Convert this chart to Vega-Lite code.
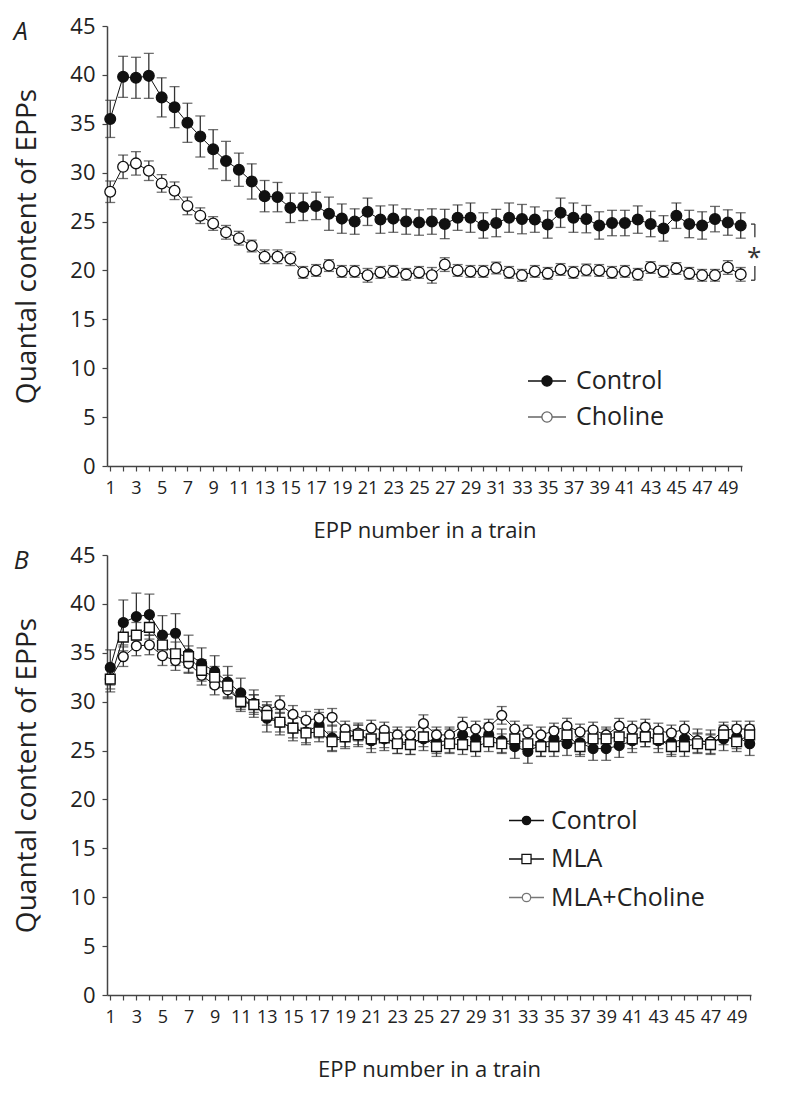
{
  "$schema": "https://vega.github.io/schema/vega-lite/v6.json",
  "padding": {"left": 13, "top": 15, "right": 5, "bottom": 5},
  "spacing": 3,
  "background": "white",
  "datasets": {
    "a": [
      {"n":1,"group":"Control","mean":35.5,"err":1.9},{"n":2,"group":"Control","mean":39.8,"err":2.1},{"n":3,"group":"Control","mean":39.7,"err":2.1},{"n":4,"group":"Control","mean":39.9,"err":2.3},{"n":5,"group":"Control","mean":37.7,"err":2.0},
      {"n":6,"group":"Control","mean":36.7,"err":2.1},{"n":7,"group":"Control","mean":35.1,"err":2.0},{"n":8,"group":"Control","mean":33.7,"err":2.1},{"n":9,"group":"Control","mean":32.4,"err":2.0},{"n":10,"group":"Control","mean":31.2,"err":2.0},
      {"n":11,"group":"Control","mean":30.3,"err":1.7},{"n":12,"group":"Control","mean":29.1,"err":1.8},{"n":13,"group":"Control","mean":27.6,"err":1.6},{"n":14,"group":"Control","mean":27.5,"err":1.5},{"n":15,"group":"Control","mean":26.4,"err":1.5},
      {"n":16,"group":"Control","mean":26.5,"err":1.4},{"n":17,"group":"Control","mean":26.6,"err":1.4},{"n":18,"group":"Control","mean":25.8,"err":1.7},{"n":19,"group":"Control","mean":25.3,"err":1.5},{"n":20,"group":"Control","mean":25.0,"err":1.3},
      {"n":21,"group":"Control","mean":26.0,"err":1.4},{"n":22,"group":"Control","mean":25.2,"err":1.4},{"n":23,"group":"Control","mean":25.3,"err":1.4},{"n":24,"group":"Control","mean":25.0,"err":1.3},{"n":25,"group":"Control","mean":24.9,"err":1.3},
      {"n":26,"group":"Control","mean":25.0,"err":1.3},{"n":27,"group":"Control","mean":24.75,"err":1.5},{"n":28,"group":"Control","mean":25.4,"err":1.3},{"n":29,"group":"Control","mean":25.4,"err":1.5},{"n":30,"group":"Control","mean":24.6,"err":1.3},
      {"n":31,"group":"Control","mean":24.85,"err":1.4},{"n":32,"group":"Control","mean":25.4,"err":1.5},{"n":33,"group":"Control","mean":25.25,"err":1.5},{"n":34,"group":"Control","mean":25.2,"err":1.3},{"n":35,"group":"Control","mean":24.7,"err":1.4},
      {"n":36,"group":"Control","mean":25.9,"err":1.5},{"n":37,"group":"Control","mean":25.4,"err":1.5},{"n":38,"group":"Control","mean":25.25,"err":1.4},{"n":39,"group":"Control","mean":24.6,"err":1.4},{"n":40,"group":"Control","mean":24.85,"err":1.3},
      {"n":41,"group":"Control","mean":24.85,"err":1.3},{"n":42,"group":"Control","mean":25.2,"err":1.4},{"n":43,"group":"Control","mean":24.75,"err":1.3},{"n":44,"group":"Control","mean":24.3,"err":1.3},{"n":45,"group":"Control","mean":25.6,"err":1.3},
      {"n":46,"group":"Control","mean":24.75,"err":1.4},{"n":47,"group":"Control","mean":24.6,"err":1.4},{"n":48,"group":"Control","mean":25.25,"err":1.3},{"n":49,"group":"Control","mean":24.9,"err":1.3},{"n":50,"group":"Control","mean":24.6,"err":1.3},
      {"n":1,"group":"Choline","mean":28.05,"err":1.1},{"n":2,"group":"Choline","mean":30.6,"err":1.2},{"n":3,"group":"Choline","mean":30.95,"err":1.2},{"n":4,"group":"Choline","mean":30.2,"err":1.0},{"n":5,"group":"Choline","mean":28.9,"err":0.9},
      {"n":6,"group":"Choline","mean":28.15,"err":0.9},{"n":7,"group":"Choline","mean":26.6,"err":0.9},{"n":8,"group":"Choline","mean":25.6,"err":0.8},{"n":9,"group":"Choline","mean":24.8,"err":0.7},{"n":10,"group":"Choline","mean":23.9,"err":0.7},
      {"n":11,"group":"Choline","mean":23.3,"err":0.7},{"n":12,"group":"Choline","mean":22.5,"err":0.6},{"n":13,"group":"Choline","mean":21.4,"err":0.7},{"n":14,"group":"Choline","mean":21.4,"err":0.7},{"n":15,"group":"Choline","mean":21.2,"err":0.7},
      {"n":16,"group":"Choline","mean":19.8,"err":0.6},{"n":17,"group":"Choline","mean":20.0,"err":0.6},{"n":18,"group":"Choline","mean":20.5,"err":0.6},{"n":19,"group":"Choline","mean":19.9,"err":0.6},{"n":20,"group":"Choline","mean":19.9,"err":0.6},
      {"n":21,"group":"Choline","mean":19.5,"err":0.7},{"n":22,"group":"Choline","mean":19.8,"err":0.6},{"n":23,"group":"Choline","mean":19.9,"err":0.6},{"n":24,"group":"Choline","mean":19.6,"err":0.6},{"n":25,"group":"Choline","mean":19.8,"err":0.6},
      {"n":26,"group":"Choline","mean":19.5,"err":0.8},{"n":27,"group":"Choline","mean":20.6,"err":0.7},{"n":28,"group":"Choline","mean":20.0,"err":0.6},{"n":29,"group":"Choline","mean":19.9,"err":0.6},{"n":30,"group":"Choline","mean":19.9,"err":0.6},
      {"n":31,"group":"Choline","mean":20.25,"err":0.6},{"n":32,"group":"Choline","mean":19.8,"err":0.6},{"n":33,"group":"Choline","mean":19.5,"err":0.6},{"n":34,"group":"Choline","mean":19.9,"err":0.6},{"n":35,"group":"Choline","mean":19.7,"err":0.6},
      {"n":36,"group":"Choline","mean":20.1,"err":0.6},{"n":37,"group":"Choline","mean":19.8,"err":0.6},{"n":38,"group":"Choline","mean":20.05,"err":0.6},{"n":39,"group":"Choline","mean":20.0,"err":0.6},{"n":40,"group":"Choline","mean":19.8,"err":0.6},
      {"n":41,"group":"Choline","mean":19.9,"err":0.6},{"n":42,"group":"Choline","mean":19.6,"err":0.6},{"n":43,"group":"Choline","mean":20.3,"err":0.6},{"n":44,"group":"Choline","mean":19.9,"err":0.6},{"n":45,"group":"Choline","mean":20.2,"err":0.6},
      {"n":46,"group":"Choline","mean":19.7,"err":0.6},{"n":47,"group":"Choline","mean":19.5,"err":0.6},{"n":48,"group":"Choline","mean":19.5,"err":0.6},{"n":49,"group":"Choline","mean":20.3,"err":0.7},{"n":50,"group":"Choline","mean":19.6,"err":0.7}
    ],
    "b": [
      {"n":1,"group":"Control","mean":33.5,"err":1.8},{"n":2,"group":"Control","mean":38.1,"err":2.3},{"n":3,"group":"Control","mean":38.7,"err":2.4},{"n":4,"group":"Control","mean":38.9,"err":2.1},{"n":5,"group":"Control","mean":36.8,"err":2.0},
      {"n":6,"group":"Control","mean":37.0,"err":2.0},{"n":7,"group":"Control","mean":34.9,"err":1.9},{"n":8,"group":"Control","mean":33.9,"err":1.6},{"n":9,"group":"Control","mean":33.1,"err":1.6},{"n":10,"group":"Control","mean":32.0,"err":1.6},
      {"n":11,"group":"Control","mean":30.9,"err":1.5},{"n":12,"group":"Control","mean":29.8,"err":1.4},{"n":13,"group":"Control","mean":28.3,"err":1.4},{"n":14,"group":"Control","mean":27.9,"err":1.3},{"n":15,"group":"Control","mean":27.3,"err":1.3},
      {"n":16,"group":"Control","mean":26.9,"err":1.3},{"n":17,"group":"Control","mean":27.6,"err":1.3},{"n":18,"group":"Control","mean":26.3,"err":1.3},{"n":19,"group":"Control","mean":26.4,"err":1.2},{"n":20,"group":"Control","mean":26.6,"err":1.2},
      {"n":21,"group":"Control","mean":26.0,"err":1.2},{"n":22,"group":"Control","mean":26.2,"err":1.2},{"n":23,"group":"Control","mean":25.9,"err":1.2},{"n":24,"group":"Control","mean":25.8,"err":1.2},{"n":25,"group":"Control","mean":26.2,"err":1.2},
      {"n":26,"group":"Control","mean":25.9,"err":1.2},{"n":27,"group":"Control","mean":26.0,"err":1.2},{"n":28,"group":"Control","mean":26.6,"err":1.2},{"n":29,"group":"Control","mean":26.2,"err":1.2},{"n":30,"group":"Control","mean":26.6,"err":1.2},
      {"n":31,"group":"Control","mean":26.0,"err":1.2},{"n":32,"group":"Control","mean":25.4,"err":1.2},{"n":33,"group":"Control","mean":24.9,"err":1.2},{"n":34,"group":"Control","mean":25.6,"err":1.2},{"n":35,"group":"Control","mean":26.2,"err":1.2},
      {"n":36,"group":"Control","mean":25.7,"err":1.2},{"n":37,"group":"Control","mean":25.8,"err":1.2},{"n":38,"group":"Control","mean":25.2,"err":1.2},{"n":39,"group":"Control","mean":25.2,"err":1.2},{"n":40,"group":"Control","mean":25.5,"err":1.2},
      {"n":41,"group":"Control","mean":26.0,"err":1.2},{"n":42,"group":"Control","mean":26.6,"err":1.2},{"n":43,"group":"Control","mean":26.0,"err":1.2},{"n":44,"group":"Control","mean":25.8,"err":1.2},{"n":45,"group":"Control","mean":26.2,"err":1.2},
      {"n":46,"group":"Control","mean":26.0,"err":1.2},{"n":47,"group":"Control","mean":25.9,"err":1.2},{"n":48,"group":"Control","mean":26.2,"err":1.2},{"n":49,"group":"Control","mean":26.4,"err":1.2},{"n":50,"group":"Control","mean":25.7,"err":1.2},
      {"n":1,"group":"MLA","mean":32.3,"err":1.3},{"n":2,"group":"MLA","mean":36.6,"err":1.4},{"n":3,"group":"MLA","mean":36.8,"err":1.3},{"n":4,"group":"MLA","mean":37.6,"err":1.2},{"n":5,"group":"MLA","mean":35.8,"err":1.2},
      {"n":6,"group":"MLA","mean":34.9,"err":1.2},{"n":7,"group":"MLA","mean":34.6,"err":1.1},{"n":8,"group":"MLA","mean":33.2,"err":1.1},{"n":9,"group":"MLA","mean":32.5,"err":1.1},{"n":10,"group":"MLA","mean":31.6,"err":1.1},
      {"n":11,"group":"MLA","mean":30.0,"err":1.0},{"n":12,"group":"MLA","mean":29.7,"err":1.0},{"n":13,"group":"MLA","mean":28.6,"err":1.0},{"n":14,"group":"MLA","mean":27.9,"err":1.0},{"n":15,"group":"MLA","mean":27.3,"err":1.0},
      {"n":16,"group":"MLA","mean":26.8,"err":1.0},{"n":17,"group":"MLA","mean":26.9,"err":1.0},{"n":18,"group":"MLA","mean":25.9,"err":1.0},{"n":19,"group":"MLA","mean":26.4,"err":1.0},{"n":20,"group":"MLA","mean":26.6,"err":1.0},
      {"n":21,"group":"MLA","mean":26.2,"err":1.0},{"n":22,"group":"MLA","mean":26.3,"err":1.0},{"n":23,"group":"MLA","mean":25.7,"err":1.0},{"n":24,"group":"MLA","mean":25.6,"err":1.0},{"n":25,"group":"MLA","mean":26.4,"err":1.0},
      {"n":26,"group":"MLA","mean":25.4,"err":1.0},{"n":27,"group":"MLA","mean":25.7,"err":1.0},{"n":28,"group":"MLA","mean":25.6,"err":1.0},{"n":29,"group":"MLA","mean":25.4,"err":1.0},{"n":30,"group":"MLA","mean":25.9,"err":1.0},
      {"n":31,"group":"MLA","mean":25.7,"err":1.0},{"n":32,"group":"MLA","mean":26.2,"err":1.0},{"n":33,"group":"MLA","mean":25.7,"err":1.0},{"n":34,"group":"MLA","mean":25.4,"err":1.0},{"n":35,"group":"MLA","mean":25.4,"err":1.0},
      {"n":36,"group":"MLA","mean":26.6,"err":1.0},{"n":37,"group":"MLA","mean":25.4,"err":1.0},{"n":38,"group":"MLA","mean":26.2,"err":1.0},{"n":39,"group":"MLA","mean":26.2,"err":1.0},{"n":40,"group":"MLA","mean":26.4,"err":1.0},
      {"n":41,"group":"MLA","mean":26.2,"err":1.0},{"n":42,"group":"MLA","mean":26.4,"err":1.0},{"n":43,"group":"MLA","mean":26.2,"err":1.0},{"n":44,"group":"MLA","mean":25.4,"err":1.0},{"n":45,"group":"MLA","mean":25.4,"err":1.0},
      {"n":46,"group":"MLA","mean":25.7,"err":1.0},{"n":47,"group":"MLA","mean":25.6,"err":1.0},{"n":48,"group":"MLA","mean":26.6,"err":1.0},{"n":49,"group":"MLA","mean":25.9,"err":1.0},{"n":50,"group":"MLA","mean":26.6,"err":1.0},
      {"n":1,"group":"MLA+Choline","mean":32.3,"err":1.0},{"n":2,"group":"MLA+Choline","mean":34.6,"err":1.0},{"n":3,"group":"MLA+Choline","mean":35.7,"err":1.0},{"n":4,"group":"MLA+Choline","mean":35.8,"err":1.0},{"n":5,"group":"MLA+Choline","mean":34.7,"err":1.0},
      {"n":6,"group":"MLA+Choline","mean":34.2,"err":1.0},{"n":7,"group":"MLA+Choline","mean":33.9,"err":1.0},{"n":8,"group":"MLA+Choline","mean":32.7,"err":1.0},{"n":9,"group":"MLA+Choline","mean":31.7,"err":1.0},{"n":10,"group":"MLA+Choline","mean":31.2,"err":0.9},
      {"n":11,"group":"MLA+Choline","mean":30.1,"err":0.9},{"n":12,"group":"MLA+Choline","mean":29.8,"err":0.9},{"n":13,"group":"MLA+Choline","mean":29.1,"err":0.9},{"n":14,"group":"MLA+Choline","mean":29.7,"err":0.9},{"n":15,"group":"MLA+Choline","mean":28.7,"err":0.9},
      {"n":16,"group":"MLA+Choline","mean":28.1,"err":0.9},{"n":17,"group":"MLA+Choline","mean":28.3,"err":0.9},{"n":18,"group":"MLA+Choline","mean":28.4,"err":0.9},{"n":19,"group":"MLA+Choline","mean":27.2,"err":0.8},{"n":20,"group":"MLA+Choline","mean":26.8,"err":0.8},
      {"n":21,"group":"MLA+Choline","mean":27.3,"err":0.8},{"n":22,"group":"MLA+Choline","mean":27.1,"err":0.8},{"n":23,"group":"MLA+Choline","mean":26.6,"err":0.8},{"n":24,"group":"MLA+Choline","mean":26.6,"err":0.8},{"n":25,"group":"MLA+Choline","mean":27.75,"err":0.9},
      {"n":26,"group":"MLA+Choline","mean":26.6,"err":0.8},{"n":27,"group":"MLA+Choline","mean":26.6,"err":0.8},{"n":28,"group":"MLA+Choline","mean":27.5,"err":0.9},{"n":29,"group":"MLA+Choline","mean":27.2,"err":0.8},{"n":30,"group":"MLA+Choline","mean":27.4,"err":0.8},
      {"n":31,"group":"MLA+Choline","mean":28.6,"err":0.9},{"n":32,"group":"MLA+Choline","mean":27.2,"err":0.8},{"n":33,"group":"MLA+Choline","mean":26.8,"err":0.8},{"n":34,"group":"MLA+Choline","mean":26.6,"err":0.8},{"n":35,"group":"MLA+Choline","mean":27.0,"err":0.8},
      {"n":36,"group":"MLA+Choline","mean":27.5,"err":0.8},{"n":37,"group":"MLA+Choline","mean":26.9,"err":0.8},{"n":38,"group":"MLA+Choline","mean":27.1,"err":0.8},{"n":39,"group":"MLA+Choline","mean":26.6,"err":0.8},{"n":40,"group":"MLA+Choline","mean":27.5,"err":0.8},
      {"n":41,"group":"MLA+Choline","mean":27.2,"err":0.8},{"n":42,"group":"MLA+Choline","mean":27.4,"err":0.8},{"n":43,"group":"MLA+Choline","mean":27.0,"err":0.8},{"n":44,"group":"MLA+Choline","mean":26.8,"err":0.8},{"n":45,"group":"MLA+Choline","mean":27.2,"err":0.8},
      {"n":46,"group":"MLA+Choline","mean":26.0,"err":0.8},{"n":47,"group":"MLA+Choline","mean":25.9,"err":0.8},{"n":48,"group":"MLA+Choline","mean":27.1,"err":0.8},{"n":49,"group":"MLA+Choline","mean":27.2,"err":0.8},{"n":50,"group":"MLA+Choline","mean":27.2,"err":0.8}
    ],
    "bracket": [
      {"x":51.1,"x2":51.1,"y":23.4,"y2":24.74},
      {"x":51.1,"x2":51.1,"y":19.0,"y2":20.45},
      {"x":50.8,"x2":51.1,"y":24.74,"y2":24.74},
      {"x":50.8,"x2":51.1,"y":19.0,"y2":19.0}
    ],
    "star": [{"x":51.05,"y":21.3,"label":"*"}]
  },
  "vconcat": [
    {
      "width": 635,
      "height": 440,
      "title": {"text": "A", "anchor": "start", "frame": "bounds", "fontStyle": "italic", "fontSize": 25, "fontWeight": "normal", "font": "Open Sans", "color": "#222", "offset": -30},
      "layer": [
        {
          "data": {"name": "a"},
          "mark": {"type": "errorbar", "ticks": {"size": 10, "thickness": 1.3}, "color": "#333", "thickness": 1.3},
          "encoding": {
            "x": {"field": "n", "type": "quantitative", "scale": {"domain": [0.75, 50.1], "nice": false, "zero": false}, "title": "EPP number in a train",
              "axis": {"values": [1,2,3,4,5,6,7,8,9,10,11,12,13,14,15,16,17,18,19,20,21,22,23,24,25,26,27,28,29,30,31,32,33,34,35,36,37,38,39,40,41,42,43,44,45,46,47,48,49,50], "tickCount": 100, "format": "d", "labelExpr": "datum.value % 2 == 1 ? datum.label : ''", "labelOverlap": false, "labelFlush": false, "titlePadding": 23}},
            "y": {"field": "mean", "type": "quantitative", "scale": {"domain": [0, 45], "nice": false}, "title": "Quantal content of EPPs", "axis": {"values": [0,5,10,15,20,25,30,35,40,45], "tickCount": 20, "format": "d"}},
            "yError": {"field": "err"},
            "detail": {"field": "group"}
          }
        },
        {
          "data": {"name": "a"},
          "mark": {"type": "line", "color": "#111", "strokeWidth": 1},
          "encoding": {
            "x": {"field": "n", "type": "quantitative", "title": "EPP number in a train"},
            "y": {"field": "mean", "type": "quantitative", "title": "Quantal content of EPPs"},
            "detail": {"field": "group"}
          }
        },
        {
          "data": {"name": "a"},
          "mark": {"type": "point", "shape": "circle", "filled": true, "size": 115, "stroke": "#111", "strokeWidth": 1.3, "opacity": 1},
          "encoding": {
            "x": {"field": "n", "type": "quantitative", "title": "EPP number in a train"},
            "y": {"field": "mean", "type": "quantitative", "title": "Quantal content of EPPs"},
            "fill": {
              "field": "group", "type": "nominal",
              "scale": {"domain": ["Control", "Choline"], "range": ["#111", "white"]},
              "legend": {
                "orient": "none", "legendX": 420, "legendY": 335, "title": null, "padding": 0,
                "symbolType": "M-1,0H-0.27M0.27,0H1M0.27,0A0.27,0.27,0,1,1,-0.27,0A0.27,0.27,0,1,1,0.27,0Z",
                "symbolSize": 1444, "symbolStrokeColor": "#111", "symbolStrokeWidth": 1.3,
                "labelFontSize": 25, "labelFont": "Open Sans", "labelColor": "#222", "labelOffset": 9, "rowPadding": 3,
                "symbolOpacity": 1,
                "encode": {
                  "symbols": {
                    "update": {
                      "stroke": {"signal": "datum.value === 'Choline' ? '#666' : '#111'"}
                    }
                  }
                }
              }
            }
          }
        },
        {
          "data": {"name": "bracket"},
          "mark": {"type": "rule", "color": "#333", "strokeWidth": 1.3},
          "encoding": {
            "x": {"field": "x", "type": "quantitative"},
            "x2": {"field": "x2"},
            "y": {"field": "y", "type": "quantitative"},
            "y2": {"field": "y2"}
          }
        },
        {
          "data": {"name": "star"},
          "mark": {"type": "text", "fontSize": 26, "font": "Open Sans", "color": "#333", "baseline": "middle", "align": "center"},
          "encoding": {
            "x": {"field": "x", "type": "quantitative"},
            "y": {"field": "y", "type": "quantitative"},
            "text": {"field": "label"}
          }
        }
      ]
    },
    {
      "width": 644,
      "height": 440,
      "title": {"text": "B", "anchor": "start", "frame": "bounds", "fontStyle": "italic", "fontSize": 25, "fontWeight": "normal", "font": "Open Sans", "color": "#222", "offset": -30},
      "data": {"name": "b"},
      "layer": [
        {
          "mark": {"type": "errorbar", "ticks": {"size": 10, "thickness": 1.3}, "color": "#333", "thickness": 1.3},
          "encoding": {
            "x": {"field": "n", "type": "quantitative", "scale": {"domain": [0.75, 50.1], "nice": false, "zero": false}, "title": "EPP number in a train",
              "axis": {"values": [1,2,3,4,5,6,7,8,9,10,11,12,13,14,15,16,17,18,19,20,21,22,23,24,25,26,27,28,29,30,31,32,33,34,35,36,37,38,39,40,41,42,43,44,45,46,47,48,49,50], "tickCount": 100, "format": "d", "labelExpr": "datum.value % 2 == 1 ? datum.label : ''", "labelOverlap": false, "labelFlush": false, "titlePadding": 33}},
            "y": {"field": "mean", "type": "quantitative", "scale": {"domain": [0, 45], "nice": false}, "title": "Quantal content of EPPs", "axis": {"values": [0,5,10,15,20,25,30,35,40,45], "tickCount": 20, "format": "d"}},
            "yError": {"field": "err"},
            "detail": {"field": "group"}
          }
        },
        {
          "mark": {"type": "line", "color": "#111", "strokeWidth": 1},
          "encoding": {
            "x": {"field": "n", "type": "quantitative", "title": "EPP number in a train"},
            "y": {"field": "mean", "type": "quantitative", "title": "Quantal content of EPPs"},
            "detail": {"field": "group"}
          }
        },
        {
          "transform": [{"filter": "datum.group !== 'MLA'"}],
          "mark": {"type": "point", "shape": "circle", "filled": true, "size": 95, "stroke": "#111", "strokeWidth": 1.4, "opacity": 1},
          "encoding": {
            "x": {"field": "n", "type": "quantitative", "title": "EPP number in a train"},
            "y": {"field": "mean", "type": "quantitative", "title": "Quantal content of EPPs"},
            "fill": {
              "field": "group", "type": "nominal",
              "scale": {"domain": ["Control", "MLA", "MLA+Choline"], "range": ["#111", "white", "white"]},
              "legend": {
                "orient": "none", "legendX": 401, "legendY": 247, "title": null, "padding": 0,
                "symbolType": "M-1,0H-0.24M0.24,0H1M0.24,0A0.24,0.24,0,1,1,-0.24,0A0.24,0.24,0,1,1,0.24,0Z",
                "symbolSize": 1225, "symbolStrokeColor": "#111", "symbolStrokeWidth": 1.3,
                "labelFontSize": 25, "labelFont": "Open Sans", "labelColor": "#222", "labelOffset": 6, "rowPadding": 6.5,
                "symbolOpacity": 1,
                "encode": {
                  "symbols": {
                    "update": {
                      "shape": {"signal": "datum.value === 'MLA' ? 'M-1,0H-0.26M0.26,0H1M-0.26,-0.26H0.26V0.26H-0.26Z' : 'M-1,0H-0.24M0.24,0H1M0.24,0A0.24,0.24,0,1,1,-0.24,0A0.24,0.24,0,1,1,0.24,0Z'"},
                      "stroke": {"signal": "datum.value === 'MLA+Choline' ? '#777' : '#111'"}
                    }
                  }
                }
              }
            }
          }
        },
        {
          "transform": [{"filter": "datum.group === 'MLA'"}],
          "mark": {"type": "point", "shape": "square", "filled": true, "size": 95, "stroke": "#111", "strokeWidth": 1.4, "opacity": 1},
          "encoding": {
            "x": {"field": "n", "type": "quantitative", "title": "EPP number in a train"},
            "y": {"field": "mean", "type": "quantitative", "title": "Quantal content of EPPs"},
            "fill": {
              "field": "group", "type": "nominal",
              "scale": {"domain": ["Control", "MLA", "MLA+Choline"], "range": ["#111", "white", "white"]}
            }
          }
        }
      ]
    }
  ],
  "resolve": {"scale": {"fill": "independent"}, "legend": {"fill": "independent"}},
  "config": {
    "view": {"stroke": null},
    "font": "Open Sans",
    "axisX": {
      "labelFont": "Open Sans",
      "labelFontSize": 18, "labelOverlap": false, "labelFlush": false, "labelPadding": 8, "labelColor": "#222",
      "tickSize": 5, "tickColor": "#444", "tickWidth": 1.2,
      "domainColor": "#444", "domainWidth": 1.5, "grid": false,
      "titleFontSize": 22, "titleFontWeight": "normal", "titleColor": "#222", "titleFont": "Open Sans"
    },
    "axisY": {
      "labelFontSize": 22, "labelPadding": 7, "labelColor": "#222",
      "tickSize": 5, "tickColor": "#444", "tickWidth": 1.2,
      "domainColor": "#444", "domainWidth": 1.5, "grid": false,
      "titleFontSize": 28, "titleFontWeight": "normal", "titleColor": "#222", "titlePadding": 28, "titleFont": "Open Sans"
    }
  }
}
